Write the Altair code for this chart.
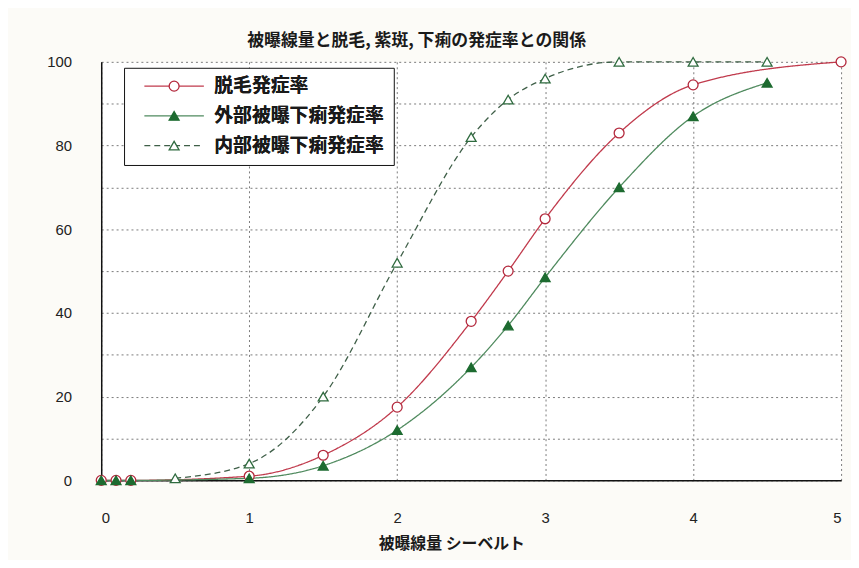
import altair as alt
import pandas as pd

# ---------------- data ----------------
series_names = ["脱毛発症率", "外部被曝下痢発症率", "内部被曝下痢発症率"]

hair_x = [0, 0.1, 0.2, 1, 1.5, 2, 2.5, 2.75, 3, 3.5, 4, 5]
hair_y = [0, 0, 0, 1, 6, 17.5, 38, 50, 62.5, 83, 94.5, 100]

ext_x = [0, 0.1, 0.2, 1, 1.5, 2, 2.5, 2.75, 3, 3.5, 4, 4.5]
ext_y = [0, 0, 0, 0.5, 3.5, 12, 27, 37, 48.5, 70, 87, 95]

int_x = [0.5, 1, 1.5, 2, 2.5, 2.75, 3, 3.5, 4, 4.5]
int_y = [0.5, 4, 20, 52, 82, 91, 96, 100, 100, 100]

x_ticks = [0, 1, 2, 3, 4, 5]
y_ticks = [0, 10, 20, 30, 40, 50, 60, 70, 80, 90, 100]

title_text = "被曝線量と脱毛, 紫斑, 下痢の発症率との関係"
x_title = "被曝線量  シーベルト"

line_colors = ["#c03a4c", "#4f8a5e", "#3f5f48"]
marker_strokes = ["#b3283c", "#1d6b30", "#2f6b3f"]
marker_fills = ["#ffffff", "#1d6b30", "#ffffff"]
marker_shapes = ["circle", "triangle-up", "triangle-up"]
dashes = [[1, 0], [1, 0], [6, 4]]

# marker legend keys differ from line keys only by a trailing space so that
# Vega-Lite keeps the two (overlaid) legends separate
marker_keys = [n + " " for n in series_names]

rows = []
for name, key, xs, ys in zip(series_names, marker_keys, [hair_x, ext_x, int_x], [hair_y, ext_y, int_y]):
    for xv, yv in zip(xs, ys):
        rows.append({"x": xv, "y": yv, "series": name, "series2": key})
df = pd.DataFrame(rows)

JP = "Noto Sans CJK JP"
NUM = "Liberation Sans"

leg_common = dict(
    title=None,
    orient="none",
    legendX=23,
    legendY=6,
    direction="vertical",
    symbolSize=100,
    symbolStrokeWidth=1.3,
    symbolOffset=32,
    labelOffset=31,
    padding=9,
    rowPadding=10,
    labelFont=JP,
    labelFontSize=19,
    labelFontWeight="bold",
    labelColor="#1a1a1a",
    labelLimit=400,
)

leg_lines = alt.Legend(
    symbolType="M-6,0L6,0",
    fillColor="#ffffff",
    strokeColor="#111111",
    **leg_common,
)
leg_marks = alt.Legend(labelExpr="trim(datum.label)", **leg_common)

x_enc = alt.X(
    "x:Q",
    scale=alt.Scale(domain=[0, 5], nice=False, zero=False),
    axis=alt.Axis(
        values=x_ticks,
        format="d",
        title=x_title,
        grid=True,
        gridDash=[2, 3],
        gridColor="#7a7a7a",
        gridWidth=1,
        domainColor="#111111",
        domainWidth=1.5,
        ticks=False,
        labelPadding=30,
        labelFont=NUM,
        labelFontSize=15,
        labelColor="#222222",
        titleFont=JP,
        titleFontSize=16,
        titleFontWeight="bold",
        titleColor="#1a1a1a",
        titleX=353,
        titleY=64,
        titleAlign="center",
        titleBaseline="middle",
    ),
)
y_enc = alt.Y(
    "y:Q",
    scale=alt.Scale(domain=[0, 100], nice=False),
    axis=alt.Axis(
        values=y_ticks,
        labelExpr="datum.value % 20 == 0 ? datum.label : ''",
        title=None,
        grid=True,
        gridDash=[2, 3],
        gridColor="#7a7a7a",
        gridWidth=1,
        domainColor="#111111",
        domainWidth=1.5,
        ticks=False,
        labelPadding=30,
        labelFont=NUM,
        labelFontSize=15,
        labelColor="#222222",
    ),
)

base = alt.Chart(df)

lines = base.mark_line(interpolate="monotone", strokeWidth=1.3).encode(
    x=x_enc,
    y=y_enc,
    color=alt.Color(
        "series:N",
        scale=alt.Scale(domain=series_names, range=line_colors),
        legend=leg_lines,
    ),
    strokeDash=alt.StrokeDash(
        "series:N",
        scale=alt.Scale(domain=series_names, range=dashes),
        legend=leg_lines,
    ),
)

points = base.mark_point(size=100, strokeWidth=1.3, opacity=1).encode(
    x=x_enc,
    y=y_enc,
    shape=alt.Shape(
        "series2:N",
        scale=alt.Scale(domain=marker_keys, range=marker_shapes),
        legend=leg_marks,
    ),
    fill=alt.Fill(
        "series2:N",
        scale=alt.Scale(domain=marker_keys, range=marker_fills),
        legend=leg_marks,
    ),
    stroke=alt.Stroke(
        "series2:N",
        scale=alt.Scale(domain=marker_keys, range=marker_strokes),
        legend=leg_marks,
    ),
)

chart = (
    alt.layer(lines, points)
    .properties(
        width=746,
        height=422,
        title=alt.TitleParams(
            text=title_text,
            font=JP,
            fontSize=17,
            fontWeight="bold",
            color="#1a1a1a",
            anchor="middle",
            dx=-55,
            offset=4,
        ),
        padding={"left": 94, "top": 52, "right": 10, "bottom": 78},
        autosize=alt.AutoSizeParams(type="none"),
        background="#fcfbf7",
    )
    .configure_view(stroke="transparent", fill="#ffffff")
)

chart.save("out.html", embed_options={"renderer": "svg", "actions": False})
